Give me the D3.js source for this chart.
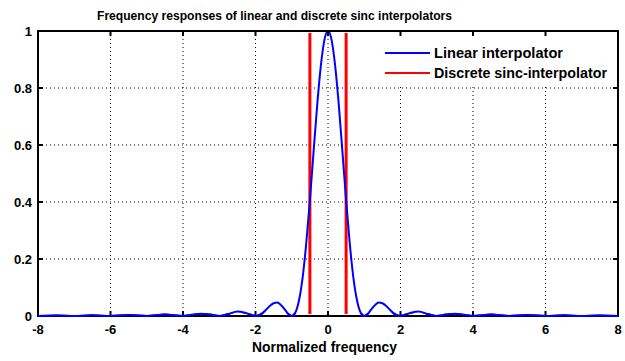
<!DOCTYPE html>
<html><head><meta charset="utf-8">
<script src="https://cdn.jsdelivr.net/npm/d3@7"></script>
<style>body{margin:0;background:#fff}svg{display:block}text{font-family:"Liberation Sans",Arial,sans-serif;font-weight:bold}</style>
</head><body><svg id="c" width="625" height="361"></svg>
<script>
// Linear interpolator response, positive half; mirrored for negative frequencies
const linFreq = [0,0.1,0.2,0.3,0.4,0.5,0.6,0.7,0.8,0.9,1.0,1.1,1.2,1.3,1.4,1.5,1.6,1.7,1.8,1.9,2.0,2.25,2.5,2.75,3.0,3.25,3.5,3.75,4.0,4.5,5.0,5.5,6.0,6.5,7.0,7.5,8.0];
const linMag  = [1,0.968,0.875,0.737,0.573,0.405,0.255,0.135,0.055,0.012,0,0.008,0.024,0.039,0.047,0.045,0.036,0.023,0.011,0.003,0,0.010,0.016,0.007,0,0.005,0.008,0.004,0,0.005,0,0.0034,0,0.0024,0,0.0018,0];
// Discrete sinc-interpolator (ideal rectangle)
const sincFreq = [-8,-0.5,-0.5,0.5,0.5,8];
const sincMag  = [0,0,1,1,0,0];
const xTicks = [-8,-6,-4,-2,0,2,4,6,8];
const yTicks = [0,0.2,0.4,0.6,0.8,1];
const titleText = "Frequency responses of linear and discrete sinc interpolators";
const xLabel = "Normalized frequency";
const legendLabels = ["Linear interpolator","Discrete sinc-interpolator"];
const colors = ["#0000ff","#ff0000"];

const svg = d3.select("#c");
const L=38,R=618,T=31,B=316;
const x = d3.scaleLinear().domain([-8,8]).range([L,R]);
const y = d3.scaleLinear().domain([0,1]).range([B,T]);

const linData = [];
for(let i=linFreq.length-1;i>0;i--) linData.push([-linFreq[i],linMag[i]]);
for(let i=0;i<linFreq.length;i++) linData.push([linFreq[i],linMag[i]]);

const defs = svg.append("defs");
defs.append("clipPath").attr("id","inner").append("rect").attr("x",L+1).attr("y",T+2).attr("width",R-L-2).attr("height",B-T-4);
defs.append("clipPath").attr("id","bot").append("rect").attr("x",L).attr("y",B-3).attr("width",R-L).attr("height",6);

// grid
const g = svg.append("g");
g.selectAll(".gx").data(xTicks.slice(1,-1)).join("line")
  .attr("x1",d=>x(d)).attr("x2",d=>x(d)).attr("y1",T).attr("y2",B)
  .attr("stroke","#000").attr("stroke-width",1).attr("stroke-dasharray","1,3");
g.selectAll(".gy").data(yTicks.slice(1,-1)).join("line")
  .attr("y1",d=>y(d)).attr("y2",d=>y(d)).attr("x1",L).attr("x2",R)
  .attr("stroke","#000").attr("stroke-width",1).attr("stroke-dasharray","1,3");

// legend background
svg.append("rect").attr("x",378).attr("y",T+2).attr("width",R-378-1).attr("height",52).attr("fill","#fff");

// lines
const line = d3.line().x(d=>x(d[0])).y(d=>y(d[1]));
svg.append("g").attr("clip-path","url(#inner)")
  .append("path").datum(sincFreq.map((f,i)=>[f,sincMag[i]])).attr("d",line)
  .attr("fill","none").attr("stroke",colors[1]).attr("stroke-width",3);
const curve = d3.line().x(d=>x(d[0])).y(d=>y(d[1])).curve(d3.curveMonotoneX);
svg.append("path").datum(linData).attr("d",curve)
  .attr("fill","none").attr("stroke",colors[0]).attr("stroke-width",2);

// axes box
svg.append("rect").attr("x",L).attr("y",T).attr("width",R-L).attr("height",B-T)
  .attr("fill","none").attr("stroke","#000").attr("stroke-width",2);
// ticks
const tk = svg.append("g").attr("stroke","#000").attr("stroke-width",2);
xTicks.forEach(d=>{
  tk.append("line").attr("x1",x(d)).attr("x2",x(d)).attr("y1",B).attr("y2",B-5);
  tk.append("line").attr("x1",x(d)).attr("x2",x(d)).attr("y1",T).attr("y2",T+5);
});
yTicks.forEach(d=>{
  tk.append("line").attr("y1",y(d)).attr("y2",y(d)).attr("x1",L).attr("x2",L+5);
  tk.append("line").attr("y1",y(d)).attr("y2",y(d)).attr("x1",R).attr("x2",R-5);
});
// blue baseline drawn over the axis line (as in reference)
svg.append("g").attr("clip-path","url(#bot)")
  .append("path").datum(linData).attr("d",curve)
  .attr("fill","none").attr("stroke",colors[0]).attr("stroke-width",2);

// tick labels
svg.selectAll(".xl").data(xTicks).join("text").attr("x",d=>x(d)).attr("y",B+18)
  .attr("text-anchor","middle").attr("font-size",13).text(d=>d);
svg.selectAll(".yl").data(yTicks).join("text").attr("x",L-6).attr("y",d=>y(d)+5)
  .attr("text-anchor","end").attr("font-size",13).text(d=>d);
// title and x label
svg.append("text").attr("x",97).attr("y",20).attr("font-size",13)
  .attr("textLength",355).attr("lengthAdjust","spacingAndGlyphs").text(titleText);
svg.append("text").attr("x",252).attr("y",352).attr("font-size",14)
  .attr("textLength",145).attr("lengthAdjust","spacingAndGlyphs").text(xLabel);

// legend
const legW = [129,173];
legendLabels.forEach((t,i)=>{
  const yy = 53 + i*20;
  svg.append("line").attr("x1",385).attr("x2",430).attr("y1",yy).attr("y2",yy).attr("stroke",colors[i]).attr("stroke-width",2);
  svg.append("text").attr("x",434).attr("y",yy+5).attr("font-size",14)
    .attr("textLength",legW[i]).attr("lengthAdjust","spacingAndGlyphs").text(t);
});
</script></body></html>
